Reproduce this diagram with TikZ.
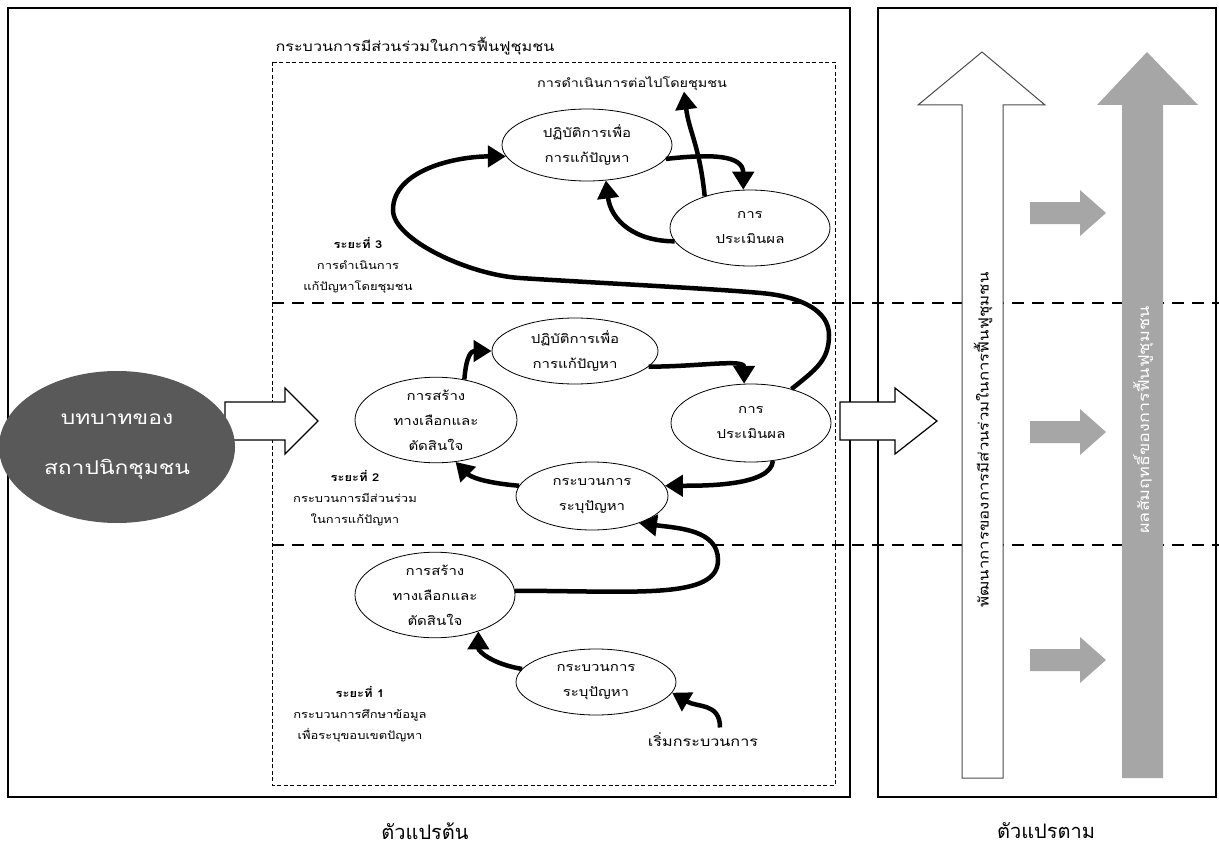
\documentclass[tikz,border=0pt]{standalone}
\usepackage{fontspec}
\newfontfamily\thai[Script=Thai,FakeStretch=1.2]{Loma}
\newfontfamily\thaiN[Script=Thai]{Loma}
\usetikzlibrary{shapes.geometric,arrows.meta}
\definecolor{grayA}{RGB}{166,166,166}
\definecolor{darkE}{RGB}{89,89,89}
\tikzset{
  ell/.style={ellipse, draw=black, line width=0.8pt, fill=white, inner sep=0pt, align=center, font=\thai\fontsize{12.5}{25}\selectfont},
  bigarrow/.style={line width=4.5pt, -{Triangle[length=18pt,width=21pt]}},
  lbl/.style={align=center, font=\thai\fontsize{10.8}{21}\selectfont},
  hollow/.style={draw=black, line width=1.2pt, fill=white},
  frame/.style={draw=black, line width=2pt},
  sepline/.style={line width=2pt, dash pattern=on 12pt off 8pt},
}
\begin{document}
\begin{tikzpicture}[x=1pt,y=-1pt]
\useasboundingbox (0,0) rectangle (1219,851);
% frames
\draw[frame] (8,8) rectangle (850,797);
\draw[frame] (878,8) rectangle (1216,797);
\draw[line width=0.7pt, dash pattern=on 4pt off 2.5pt] (272,62) rectangle (835,785);
\node[anchor=west, font=\thai\fontsize{13.5}{15}\selectfont] (title) at (272,46) {กระบวนการมีส่วนร่วมในการฟื้นฟูชุมชน};
% separators
\draw[sepline] (272,303) -- (1219,303);
\draw[sepline] (272,545) -- (1219,545);
% right side arrows
\draw[draw=black!70, line width=1pt, fill=white] (962,778) -- (962,105) -- (918,105) -- (982,52) -- (1045,105) -- (1003,105) -- (1003,778) -- cycle;
\fill[grayA] (1122,778) -- (1122,105) -- (1097,105) -- (1147,52) -- (1198,105) -- (1163,105) -- (1163,778) -- cycle;
\foreach \yy in {213,432,660}{
  \fill[grayA] (1030,\yy-11) -- (1080,\yy-11) -- (1080,\yy-23) -- (1106,\yy) -- (1080,\yy+23) -- (1080,\yy+11) -- (1030,\yy+11) -- cycle;
}
\node[rotate=90, font=\thai\fontsize{14}{16}\selectfont] (dev) at (983,440) {พัฒนาการของการมีส่วนร่วมในการฟื้นฟูชุมชน};
\node[rotate=90, text=white, font=\thai\fontsize{15}{17}\selectfont] (res) at (1143,420) {ผลสัมฤทธิ์ของการฟื้นฟูชุมชน};
% hollow arrows
\draw[hollow] (225,402) -- (285,402) -- (285,388) -- (318,421) -- (285,454) -- (285,440) -- (225,440) -- cycle;
\draw[hollow] (840,402) -- (895,402) -- (895,388) -- (937,421) -- (895,454) -- (895,440) -- (840,440) -- cycle;
% role ellipse
\node[ellipse, fill=darkE, minimum width=236pt, minimum height=152pt, inner sep=0pt, text=white, align=center, font=\thai\fontsize{19}{50}\selectfont] (role) at (117,447) {บทบาทของ\\สถาปนิกชุมชน};
% ellipses
\node[ell, minimum width=170pt, minimum height=72pt] (e3a) at (587,145) {ปฏิบัติการเพื่อ\\การแก้ปัญหา};
\node[ell, minimum width=160pt, minimum height=76pt] (e3b) at (750,228) {การ\\ประเมินผล};
\node[ell, minimum width=166pt, minimum height=66pt] (e2a) at (575,351) {ปฏิบัติการเพื่อ\\การแก้ปัญหา};
\node[ell, minimum width=162pt, minimum height=76pt] (e2b) at (436,420) {การสร้าง\\ทางเลือกและ\\ตัดสินใจ};
\node[ell, minimum width=160pt, minimum height=78pt] (e2c) at (751,423) {การ\\ประเมินผล};
\node[ell, minimum width=152pt, minimum height=68pt] (e2d) at (592,496) {กระบวนการ\\ระบุปัญหา};
\node[ell, minimum width=160pt, minimum height=70pt] (e1a) at (435,595) {การสร้าง\\ทางเลือกและ\\ตัดสินใจ};
\node[ell, minimum width=160pt, minimum height=66pt] (e1b) at (596,682) {กระบวนการ\\ระบุปัญหา};
% text labels
\node[font=\thai\fontsize{12}{14}\selectfont] (cont) at (632,84) {การดำเนินการต่อไปโดยชุมชน};
\node[font=\thai\fontsize{13.5}{15}\selectfont] (start) at (703,740) {เริ่มกระบวนการ};
\node[lbl] (st3) at (358,265) {\textbf{ระยะที่ 3}\\การดำเนินการ\\แก้ปัญหาโดยชุมชน};
\node[lbl] (st2) at (355,498) {\textbf{ระยะที่ 2}\\กระบวนการมีส่วนร่วม\\ในการแก้ปัญหา};
\node[lbl] (st1) at (360,714) {\textbf{ระยะที่ 1}\\กระบวนการศึกษาข้อมูล\\เพื่อระบุขอบเขตปัญหา};
\node[font=\thaiN\fontsize{20}{22}\selectfont] (iv) at (425,831) {ตัวแปรต้น};
\node[font=\thaiN\fontsize{20}{22}\selectfont] (dv) at (1046,831) {ตัวแปรตาม};
% stage 3 arrows
\draw[bigarrow] (e3a.-10) .. controls +(45,-5) and +(0,-35) .. (e3b.100);
\draw[bigarrow] (e3b.190) .. controls +(-40,0) and +(5,40) .. (e3a.-62);
\draw[bigarrow] (e3b.145) .. controls +(-5,-50) and +(5,40) .. ([xshift=52pt,yshift=3pt]cont.south);
% big S
\draw[bigarrow] (e2c.40) .. controls +(25,-20) and +(0,25) .. (829,335)
  .. controls +(0,-25) and +(30,4) .. (770,294)
  .. controls +(-30,-4) and +(60,4) .. (520,278)
  .. controls +(-50,-3) and +(0,30) .. (393,210)
  .. controls +(0,-40) and +(-50,0) .. (e3a.188);
% stage 2 arrows
\draw[bigarrow] (e2b.55) .. controls +(2,-25) and +(-20,0) .. (e2a.west);
\draw[bigarrow] (e2a.-12) .. controls +(50,0) and +(0,-25) .. (e2c.100);
\draw[bigarrow] (e2c.-60) .. controls +(-2,25) and +(40,0) .. (e2d.8);
\draw[bigarrow] (e2d.172) .. controls +(-35,-3) and +(15,15) .. (e2b.-65);
% stage 1 arrows
\draw[bigarrow] ([xshift=17pt,yshift=2pt]start.north) .. controls +(0,-25) and +(25,15) .. (e1b.-8);
\draw[bigarrow] (e1b.170) .. controls +(-30,-5) and +(0,20) .. (e1a.-40);
\draw[bigarrow] (e1a.3) .. controls +(120,0) and +(0,40) .. (718,560) .. controls +(0,-30) and +(40,5) .. (e2d.-30);
\end{tikzpicture}
\end{document}
